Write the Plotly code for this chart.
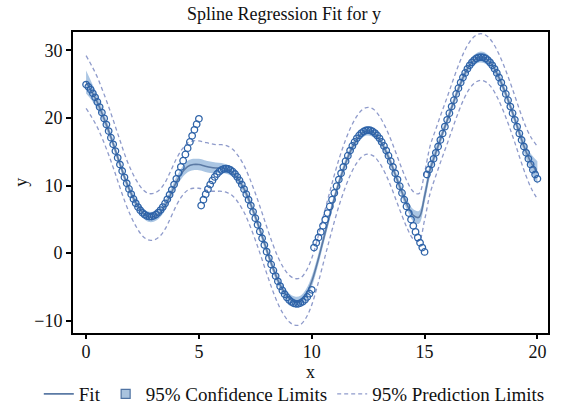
import plotly.graph_objects as go

# ---------------- data ----------------
x_obs = [0.0, 0.1, 0.2, 0.3, 0.4, 0.5, 0.6, 0.7, 0.8, 0.9,
         1.0, 1.1, 1.2, 1.3, 1.4, 1.5, 1.6, 1.7, 1.8, 1.9,
         2.0, 2.1, 2.2, 2.3, 2.4, 2.5, 2.6, 2.7, 2.8, 2.9,
         3.0, 3.1, 3.2, 3.3, 3.4, 3.5, 3.6, 3.7, 3.8, 3.9,
         4.0, 4.1, 4.2, 4.3, 4.4, 4.5, 4.6, 4.7, 4.8, 4.9,
         5.0, 5.1, 5.2, 5.3, 5.4, 5.5, 5.6, 5.7, 5.8, 5.9,
         6.0, 6.1, 6.2, 6.3, 6.4, 6.5, 6.6, 6.7, 6.8, 6.9,
         7.0, 7.1, 7.2, 7.3, 7.4, 7.5, 7.6, 7.7, 7.8, 7.9,
         8.0, 8.1, 8.2, 8.3, 8.4, 8.5, 8.6, 8.7, 8.8, 8.9,
         9.0, 9.1, 9.2, 9.3, 9.4, 9.5, 9.6, 9.7, 9.8, 9.9,
         10.0, 10.1, 10.2, 10.3, 10.4, 10.5, 10.6, 10.7, 10.8, 10.9,
         11.0, 11.1, 11.2, 11.3, 11.4, 11.5, 11.6, 11.7, 11.8, 11.9,
         12.0, 12.1, 12.2, 12.3, 12.4, 12.5, 12.6, 12.7, 12.8, 12.9,
         13.0, 13.1, 13.2, 13.3, 13.4, 13.5, 13.6, 13.7, 13.8, 13.9,
         14.0, 14.1, 14.2, 14.3, 14.4, 14.5, 14.6, 14.7, 14.8, 14.9,
         15.0, 15.1, 15.2, 15.3, 15.4, 15.5, 15.6, 15.7, 15.8, 15.9,
         16.0, 16.1, 16.2, 16.3, 16.4, 16.5, 16.6, 16.7, 16.8, 16.9,
         17.0, 17.1, 17.2, 17.3, 17.4, 17.5, 17.6, 17.7, 17.8, 17.9,
         18.0, 18.1, 18.2, 18.3, 18.4, 18.5, 18.6, 18.7, 18.8, 18.9,
         19.0, 19.1, 19.2, 19.3, 19.4, 19.5, 19.6, 19.7, 19.8, 19.9,
         20.0]

y_obs = [24.93, 24.60, 24.19, 23.64, 23.04, 22.36, 21.60, 20.79, 19.93, 19.01,
         18.06, 17.08, 16.09, 15.09, 14.10, 13.11, 12.15, 11.22, 10.34, 9.50,
         8.73, 8.02, 7.38, 6.82, 6.35, 5.97, 5.69, 5.50, 5.41, 5.42,
         5.52, 5.72, 6.00, 6.37, 6.82, 7.35, 7.96, 8.64, 9.37, 10.15,
         10.99, 11.86, 12.76, 13.67, 14.60, 15.53, 16.45, 17.35, 18.24, 19.07,
         19.87, 7.04, 7.90, 8.72, 9.47, 10.15, 10.75, 11.28, 11.71, 12.05,
         12.30, 12.45, 12.50, 12.45, 12.30, 12.05, 11.71, 11.28, 10.75, 10.15,
         9.47, 8.72, 7.90, 7.04, 6.12, 5.18, 4.20, 3.21, 2.21, 1.21,
         0.23, -0.73, -1.66, -2.55, -3.39, -4.16, -4.87, -5.51, -6.07, -6.54,
         -6.92, -7.21, -7.40, -7.49, -7.48, -7.38, -7.17, -6.87, -6.47, -5.98,
         -5.41, 0.83, 1.54, 2.32, 3.15, 4.04, 4.97, 5.93, 6.91, 7.91,
         8.91, 9.90, 10.88, 11.82, 12.74, 13.60, 14.42, 15.17, 15.85, 16.45,
         16.98, 17.41, 17.75, 18.00, 18.15, 18.20, 18.15, 18.00, 17.75, 17.41,
         16.98, 16.45, 15.85, 15.17, 14.42, 13.60, 12.74, 11.82, 10.88, 9.90,
         8.91, 7.91, 6.91, 5.93, 4.97, 4.04, 3.15, 2.32, 1.54, 0.83,
         0.19, 11.63, 12.34, 13.12, 13.95, 14.84, 15.77, 16.73, 17.71, 18.71,
         19.71, 20.70, 21.68, 22.62, 23.54, 24.40, 25.22, 25.97, 26.65, 27.25,
         27.78, 28.21, 28.55, 28.80, 28.95, 29.00, 28.95, 28.80, 28.55, 28.21,
         27.78, 27.25, 26.65, 25.97, 25.22, 24.40, 23.54, 22.62, 21.68, 20.70,
         19.71, 18.71, 17.71, 16.73, 15.77, 14.84, 13.95, 13.12, 12.34, 11.63,
         10.99]

x_fit = [0.0, 0.25, 0.5, 0.75, 1.0, 1.25, 1.5, 1.75, 2.0, 2.25,
         2.5, 2.75, 3.0, 3.25, 3.5, 3.75, 4.0, 4.25, 4.5, 4.75,
         5.0, 5.25, 5.5, 5.75, 6.0, 6.25, 6.5, 6.75, 7.0, 7.25,
         7.5, 7.75, 8.0, 8.25, 8.5, 8.75, 9.0, 9.25, 9.5, 9.75,
         10.0, 10.25, 10.5, 10.75, 11.0, 11.25, 11.5, 11.75, 12.0, 12.25,
         12.5, 12.75, 13.0, 13.25, 13.5, 13.75, 14.0, 14.25, 14.5, 14.75,
         15.0, 15.25, 15.5, 15.75, 16.0, 16.25, 16.5, 16.75, 17.0, 17.25,
         17.5, 17.75, 18.0, 18.25, 18.5, 18.75, 19.0, 19.25, 19.5, 19.75,
         20.0]

y_fit = [25.3, 23.9, 22.3, 20.3, 18.1, 15.7, 13.2, 10.8, 8.8, 7.2,
         6.0, 5.4, 5.4, 5.9, 7.0, 8.7, 10.5, 11.9, 12.8, 13.1,
         13.1, 12.9, 12.7, 12.6, 12.6, 12.4, 11.9, 10.9, 9.5, 7.6,
         5.4, 3.0, 0.5, -1.9, -4.0, -5.6, -6.7, -7.2, -7.1, -6.1,
         -4.2, -1.4, 1.8, 5.0, 8.1, 10.9, 13.3, 15.3, 16.8, 17.8,
         18.1, 17.8, 16.8, 15.3, 13.4, 11.2, 9.0, 7.0, 5.6, 5.3,
         8.4, 12.4, 14.9, 17.3, 19.6, 22.0, 24.3, 26.3, 27.8, 28.7,
         29.0, 28.7, 27.8, 26.3, 24.4, 22.2, 19.8, 17.3, 15.0, 13.2,
         11.9]

cl_half = [1.7, 1.3, 1.0, 0.8, 0.7, 0.65, 0.6, 0.6, 0.6, 0.65,
           0.7, 0.75, 0.75, 0.7, 0.7, 0.7, 0.75, 0.8, 0.85, 0.85,
           0.85, 0.85, 0.85, 0.8, 0.75, 0.7, 0.65, 0.65, 0.65, 0.65,
           0.65, 0.65, 0.65, 0.65, 0.65, 0.7, 0.75, 0.8, 0.8, 0.8,
           0.8, 0.8, 0.75, 0.7, 0.65, 0.65, 0.65, 0.65, 0.65, 0.65,
           0.7, 0.7, 0.65, 0.65, 0.65, 0.7, 0.75, 0.8, 0.9, 0.95,
           0.95, 0.9, 0.8, 0.7, 0.65, 0.65, 0.65, 0.65, 0.7, 0.75,
           0.8, 0.8, 0.75, 0.7, 0.65, 0.65, 0.7, 0.8, 1.0, 1.3,
           1.7]

pl_half = [3.9, 3.8, 3.7, 3.6, 3.55, 3.5, 3.5, 3.45, 3.45, 3.45,
           3.45, 3.45, 3.45, 3.45, 3.45, 3.45, 3.45, 3.45, 3.5, 3.5,
           3.5, 3.5, 3.5, 3.45, 3.45, 3.45, 3.45, 3.45, 3.45, 3.45,
           3.45, 3.45, 3.45, 3.45, 3.45, 3.45, 3.45, 3.45, 3.45, 3.45,
           3.45, 3.45, 3.45, 3.45, 3.45, 3.45, 3.45, 3.45, 3.45, 3.45,
           3.45, 3.45, 3.45, 3.45, 3.45, 3.45, 3.45, 3.45, 3.5, 3.5,
           3.5, 3.5, 3.45, 3.45, 3.45, 3.45, 3.45, 3.45, 3.45, 3.45,
           3.45, 3.45, 3.45, 3.45, 3.45, 3.45, 3.45, 3.5, 3.6, 3.75,
           3.9]

x_ticks = [0, 5, 10, 15, 20]
y_ticks = [-10, 0, 10, 20, 30]

title_text = "Spline Regression Fit for y"
x_title = "x"
y_title = "y"
legend_names = ["Fit", "95% Confidence Limits", "95% Prediction Limits"]

# ---------------- derived bands ----------------
lcl = [f - h for f, h in zip(y_fit, cl_half)]
ucl = [f + h for f, h in zip(y_fit, cl_half)]
lpl = [f - h for f, h in zip(y_fit, pl_half)]
upl = [f + h for f, h in zip(y_fit, pl_half)]

FONT = "Liberation Serif, Times New Roman, serif"
BAND = "rgba(115,160,208,0.6)"
FIT_C = "#5b7aa5"
PL_C = "#8f9bcb"
DOT_C = "#2e63a8"

fig = go.Figure()

# confidence band
fig.add_trace(go.Scatter(x=x_fit, y=lcl, mode="lines", line=dict(width=0, shape="spline"),
                         showlegend=False, hoverinfo="skip"))
fig.add_trace(go.Scatter(x=x_fit, y=ucl, mode="lines", line=dict(width=0, shape="spline"),
                         fill="tonexty", fillcolor=BAND, showlegend=False, hoverinfo="skip"))

# prediction limits
fig.add_trace(go.Scatter(x=x_fit, y=lpl, mode="lines",
                         line=dict(color=PL_C, width=1.3, dash="4px,3px", shape="spline"),
                         showlegend=False))
fig.add_trace(go.Scatter(x=x_fit, y=upl, mode="lines",
                         line=dict(color=PL_C, width=1.3, dash="4px,3px", shape="spline"),
                         showlegend=False))

# fit line
fig.add_trace(go.Scatter(x=x_fit, y=y_fit, mode="lines",
                         line=dict(color=FIT_C, width=1.6, shape="spline"),
                         name=legend_names[0], legendrank=1))

# observations
fig.add_trace(go.Scatter(x=x_obs, y=y_obs, mode="markers",
                         marker=dict(symbol="circle-open", size=6.5, color=DOT_C,
                                     line=dict(width=1.3, color=DOT_C)),
                         showlegend=False))

# legend entries
fig.add_trace(go.Scatter(x=[None], y=[None], mode="markers", name=legend_names[1],
                         legendrank=2,
                         marker=dict(symbol="square", size=9, color="#a9c3de",
                                     line=dict(width=1.2, color="#4f73a3"))))
fig.add_trace(go.Scatter(x=[None], y=[None], mode="lines", name=legend_names[2],
                         legendrank=3,
                         line=dict(color=PL_C, width=1.3, dash="4px,3px")))

fig.update_layout(
    width=568, height=405,
    margin=dict(l=73, r=20, t=32, b=72, autoexpand=False),
    paper_bgcolor="white", plot_bgcolor="white",
    font=dict(family=FONT, size=18, color="#111"),
    title=dict(text=title_text, x=0.5, xanchor="center", yref="container",
               y=0.9654, yanchor="middle",
               font=dict(family=FONT, size=18, color="#111")),
    legend=dict(orientation="h", xref="paper", yref="paper",
                x=-0.072, xanchor="left", y=-0.2027, yanchor="middle",
                font=dict(family=FONT, size=19, color="#111"),
                bgcolor="rgba(0,0,0,0)", itemwidth=30, traceorder="normal",
                tracegroupgap=0),
    showlegend=True,
    annotations=[
        dict(text=x_title, xref="paper", yref="paper", x=0.5, y=-0.13,
             xanchor="center", yanchor="middle", showarrow=False,
             font=dict(family=FONT, size=18, color="#111")),
        dict(text=y_title, xref="paper", yref="paper", x=-0.111, y=0.5,
             xanchor="center", yanchor="middle", showarrow=False, textangle=-90,
             font=dict(family=FONT, size=18, color="#111")),
    ],
)
fig.update_xaxes(range=[-0.58, 20.47], tickvals=x_ticks, showgrid=False, zeroline=False,
                 showline=True, linecolor="black", linewidth=2, mirror=True,
                 ticks="outside", ticklen=4, tickwidth=1.5, tickcolor="black",
                 ticklabelstandoff=-3, automargin=False)
fig.update_yaxes(range=[-11.8, 32.7], tickvals=y_ticks, showgrid=False, zeroline=False,
                 showline=True, linecolor="black", linewidth=2, mirror=True,
                 ticks="outside", ticklen=5, tickwidth=1.5, tickcolor="black",
                 tickformat="d", automargin=False)

# remove the default 8px page margin so the figure fills the window exactly
fig.write_html("out.html", config={"displayModeBar": False},
               post_script="document.body.style.margin='0';")
